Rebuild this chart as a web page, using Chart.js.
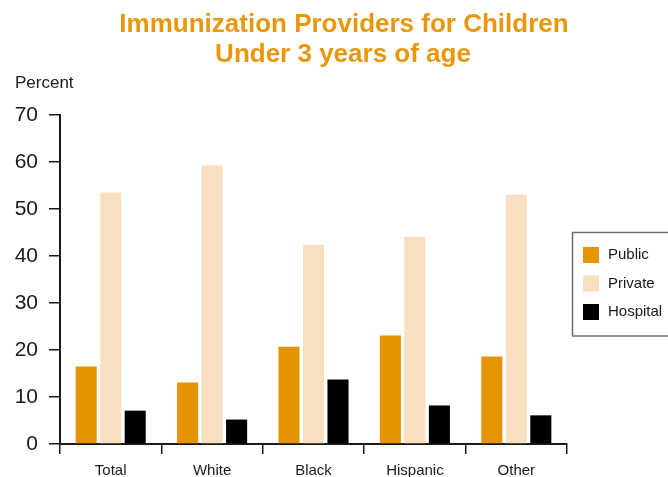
<!DOCTYPE html>
<html lang="en">
<head>
  <meta charset="UTF-8" />
  <title>Immunization Providers for Children Under 3 years of age</title>
  <script src="https://cdn.jsdelivr.net/npm/chart.js"></script>
  <style>
    body, html {
      margin: 0;
      background: #fff;
    }
    canvas { display: block; }
  </style>
</head>
<body>
  <canvas id="providersChart" width="668" height="477"></canvas>

  <script>
    const categories = ['Total', 'White', 'Black', 'Hispanic', 'Other'];
    const publicPct = [16.5, 13.1, 20.7, 23.1, 18.6];
    const privatePct = [53.5, 59.3, 42.4, 44.1, 53.1];
    const hospitalPct = [7.1, 5.2, 13.7, 8.2, 6.1];
    const yMin = 0, yMax = 70, yStep = 10;

    const titleLines = ['Immunization Providers for Children', 'Under 3 years of age'];
    const yLabel = 'Percent';

    const FONT = '"Liberation Sans", Arial, Helvetica, sans-serif';
    const ORANGE = '#e69300';
    const PEACH = '#f8dfc0';
    const INK = '#1a1a1a';

    // title, "Percent" and the boxed legend are painted on the canvas
    const decorations = {
      id: 'decorations',
      afterDraw(chart) {
        const c = chart.ctx;
        c.save();
        c.textBaseline = 'alphabetic';
        c.fillStyle = '#e8960c';
        c.font = 'bold 26px ' + FONT;
        c.textAlign = 'center';
        c.fillText(titleLines[0], 344, 32);
        c.fillText(titleLines[1], 343, 62);

        c.fillStyle = INK;
        c.font = '17px ' + FONT;
        c.textAlign = 'left';
        c.fillText(yLabel, 15, 88);

        // legend box runs off the right edge
        c.strokeStyle = '#6e6e6e';
        c.lineWidth = 1.5;
        c.strokeRect(572.5, 232.5, 140, 103.5);
        c.font = '15px ' + FONT;
        c.textBaseline = 'middle';
        chart.data.datasets.forEach((ds, i) => {
          const y = 255 + i * 28.5;
          c.fillStyle = ds.backgroundColor;
          c.fillRect(583, y - 8, 16, 16);
          c.fillStyle = INK;
          c.fillText(ds.label, 608, y);
        });
        c.restore();
      }
    };

    const bar = { barPercentage: 0.86, categoryPercentage: 0.725 };

    new Chart(document.getElementById('providersChart'), {
      type: 'bar',
      data: {
        labels: categories,
        datasets: [
          { label: 'Public', data: publicPct, backgroundColor: ORANGE, ...bar },
          { label: 'Private', data: privatePct, backgroundColor: PEACH, ...bar },
          { label: 'Hospital', data: hospitalPct, backgroundColor: '#000000', ...bar }
        ]
      },
      options: {
        responsive: false,
        animation: false,
        layout: { padding: { left: 0, right: 101, top: 115, bottom: 0 } },
        scales: {
          x: {
            afterFit: s => { s.height = 33; },
            border: { display: true, color: INK, width: 2 },
            grid: { offset: true, drawOnChartArea: false, color: INK, lineWidth: 1.5, tickLength: 10 },
            ticks: { color: INK, padding: 8, font: { family: FONT, size: 15 } }
          },
          y: {
            min: yMin,
            max: yMax,
            afterFit: s => { s.width = 60; },
            border: { display: true, color: INK, width: 2 },
            grid: { drawOnChartArea: false, color: INK, lineWidth: 1.5, tickLength: 11 },
            ticks: { stepSize: yStep, color: INK, padding: 11, font: { family: FONT, size: 21 } }
          }
        },
        plugins: {
          legend: { display: false },
          tooltip: { enabled: false }
        }
      },
      plugins: [decorations]
    });
  </script>
</body>
</html>
